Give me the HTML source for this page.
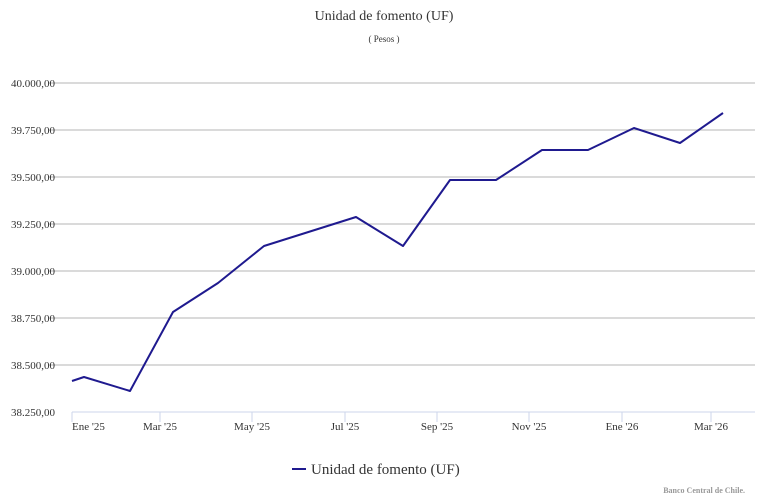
<!DOCTYPE html>
<html><head><meta charset="utf-8"><style>
body{margin:0;background:#fff;}
svg{display:block;font-family:"Liberation Serif",serif;}
</style></head><body>
<svg width="768" height="501" viewBox="0 0 768 501">
<text x="384" y="20" font-size="14" text-anchor="middle" fill="#333">Unidad de fomento (UF)</text>
<text x="384" y="42" font-size="9" text-anchor="middle" fill="#333">( Pesos )</text>
<g stroke="#c4c4c4" stroke-width="1.3">
<line x1="49" x2="755" y1="83" y2="83"/><line x1="49" x2="755" y1="130" y2="130"/>
<line x1="49" x2="755" y1="177" y2="177"/><line x1="49" x2="755" y1="224" y2="224"/>
<line x1="49" x2="755" y1="271" y2="271"/><line x1="49" x2="755" y1="318" y2="318"/>
<line x1="49" x2="755" y1="365" y2="365"/>
</g>
<line x1="72" x2="755" y1="412" y2="412" stroke="#ccd6eb" stroke-width="1"/>
<g stroke="#ccd6eb" stroke-width="1">
<line x1="72" x2="72" y1="412" y2="422"/><line x1="160" x2="160" y1="412" y2="422"/>
<line x1="252" x2="252" y1="412" y2="422"/><line x1="345" x2="345" y1="412" y2="422"/>
<line x1="437" x2="437" y1="412" y2="422"/><line x1="529" x2="529" y1="412" y2="422"/>
<line x1="622" x2="622" y1="412" y2="422"/><line x1="711" x2="711" y1="412" y2="422"/>
</g>
<g font-size="11" fill="#333" text-anchor="end">
<text x="55" y="87">40.000,00</text><text x="55" y="134">39.750,00</text>
<text x="55" y="181">39.500,00</text><text x="55" y="228">39.250,00</text>
<text x="55" y="275">39.000,00</text><text x="55" y="322">38.750,00</text>
<text x="55" y="369">38.500,00</text><text x="55" y="416">38.250,00</text>
</g>
<g font-size="11" fill="#333">
<text x="72" y="430">Ene '25</text>
<text x="160" y="430" text-anchor="middle">Mar '25</text>
<text x="252" y="430" text-anchor="middle">May '25</text>
<text x="345" y="430" text-anchor="middle">Jul '25</text>
<text x="437" y="430" text-anchor="middle">Sep '25</text>
<text x="529" y="430" text-anchor="middle">Nov '25</text>
<text x="622" y="430" text-anchor="middle">Ene '26</text>
<text x="711" y="430" text-anchor="middle">Mar '26</text>
</g>
<polyline fill="none" stroke="#1f1a8f" stroke-width="2" stroke-linejoin="round" points="72,381 84,377 130,391 173,312 218,283 264,246 356,217 403,246 450,180 496,180 542,150 588,150 634,128 680,143 723,113"/>
<line x1="292" x2="306" y1="469" y2="469" stroke="#1f1a8f" stroke-width="2"/>
<text x="311" y="474" font-size="15" fill="#333">Unidad de fomento (UF)</text>
<text x="745" y="493" font-size="8" font-weight="bold" fill="#999" text-anchor="end">Banco Central de Chile.</text>
</svg>
</body></html>
